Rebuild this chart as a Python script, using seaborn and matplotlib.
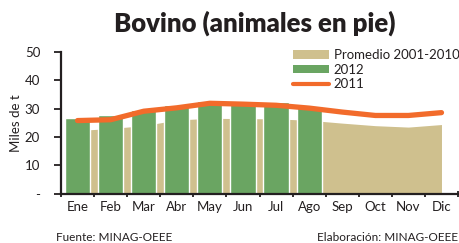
import matplotlib
matplotlib.use("Agg")
import matplotlib.pyplot as plt
import seaborn as sns
import pandas as pd
import numpy as np
from matplotlib.patches import Patch
from matplotlib.lines import Line2D

months = ["Ene", "Feb", "Mar", "Abr", "May", "Jun", "Jul", "Ago", "Sep", "Oct", "Nov", "Dic"]
promedio = [22.3, 23.0, 24.0, 26.0, 26.6, 26.5, 26.4, 25.9, 24.9, 24.0, 23.5, 24.4]
y2012 = [26.7, 27.7, 29.5, 31.3, 32.7, 32.4, 32.4, 31.0]
y2011 = [25.8, 26.1, 29.1, 30.3, 31.9, 31.6, 31.2, 30.2, 28.8, 27.6, 27.6, 28.6]
yticks = [0, 10, 20, 30, 40, 50]
ytick_labels = ["-", "10", "20", "30", "40", "50"]

C_BEIGE = "#cfc08e"
C_GREEN = "#6aa562"
C_ORANGE = "#f26b2b"
C_TEXT = "#231f20"

sns.set_theme(style="white")
plt.rcParams["font.family"] = ["Lato", "DejaVu Sans"]

fig = plt.figure(figsize=(4.6, 2.43), dpi=100)
ax = fig.add_axes([0.1326, 0.203, 0.8631, 0.583])

x = np.arange(len(months))
ax.fill_between(x, 0, promedio, color=C_BEIGE, linewidth=0, zorder=1)

df12 = pd.DataFrame({"mes": months[:len(y2012)], "v": y2012})
sns.barplot(data=df12, x="mes", y="v", order=months, color=C_GREEN,
            saturation=1, width=0.76, ax=ax, zorder=2)

df11 = pd.DataFrame({"mes": months, "v": y2011})
sns.lineplot(data=df11, x="mes", y="v", color=C_ORANGE, linewidth=3.8,
             ax=ax, zorder=3, sort=False)

ax.set_xlim(-0.5, 11.5)
ax.set_ylim(0, 50)
ax.set_xlabel("")
ax.set_ylabel("Miles de t", fontsize=9.5, color=C_TEXT, labelpad=2)

ax.set_xticks(np.arange(-0.5, 12, 1))
ax.set_xticklabels([])
ax.set_xticks(x, minor=True)
ax.set_xticklabels(months, minor=True, fontsize=9.5, color=C_TEXT)
ax.tick_params(axis="x", which="major", direction="inout", length=5, width=1.3, color=C_TEXT, bottom=True)
ax.tick_params(axis="x", which="minor", length=0, pad=5, bottom=True)

ax.set_yticks(yticks)
ax.set_yticklabels(ytick_labels, fontsize=9.5, color=C_TEXT)
ax.tick_params(axis="y", direction="out", length=5, width=1.3, color=C_TEXT, left=True, pad=10)

for s in ["top", "right"]:
    ax.spines[s].set_visible(False)
for s in ["left", "bottom"]:
    ax.spines[s].set_color(C_TEXT)
    ax.spines[s].set_linewidth(1.6)

handles = [Patch(facecolor=C_BEIGE, edgecolor="none", label="Promedio 2001-2010"),
           Patch(facecolor=C_GREEN, edgecolor="none", label="2012"),
           Line2D([0], [0], color=C_ORANGE, linewidth=3.0, label="2011")]
leg = fig.legend(handles=handles, loc="upper left", bbox_to_anchor=(293 / 460, 1 - 49 / 243),
                 frameon=False, fontsize=9.5, handlelength=2.7, handleheight=0.6,
                 handletextpad=0.4, labelspacing=0.2, borderpad=0, borderaxespad=0)
for t in leg.get_texts():
    t.set_color(C_TEXT)

fig.text(255 / 460, 1 - 23 / 243, "Bovino (animales en pie)", ha="center", va="center",
         fontsize=18.5, fontweight="heavy", color=C_TEXT)
fig.text(56 / 460, 1 - 237 / 243, "Fuente: MINAG-OEEE", ha="left", va="center",
         fontsize=8.5, color=C_TEXT)
fig.text(458 / 460, 1 - 237 / 243, "Elaboración: MINAG-OEEE", ha="right", va="center",
         fontsize=8.5, color=C_TEXT)

fig.savefig("out.png", dpi=100)
